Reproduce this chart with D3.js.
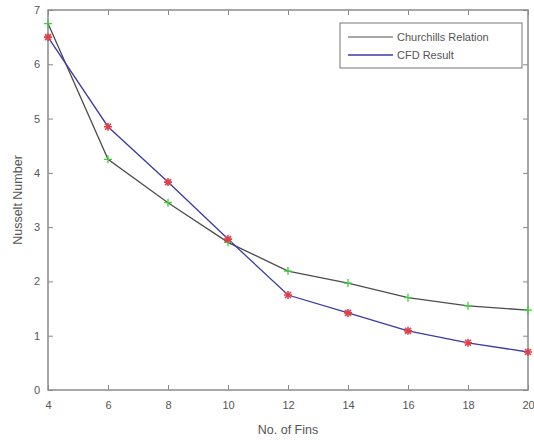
<!DOCTYPE html>
<html>
<head>
<meta charset="utf-8">
<script src="https://cdn.jsdelivr.net/npm/d3@7"></script>
<style>
  body { margin: 0; background: #fff; }
  svg { font-family: "Liberation Sans", Arial, sans-serif; }
</style>
</head>
<body>
<svg id="chart"></svg>
<script>
// Data
const fins = [4, 6, 8, 10, 12, 14, 16, 18, 20];
const churchill = [6.75, 4.25, 3.45, 2.72, 2.19, 1.97, 1.7, 1.55, 1.47];
const cfd = [6.5, 4.85, 3.83, 2.78, 1.75, 1.42, 1.09, 0.87, 0.7];
const xTicks = [4, 6, 8, 10, 12, 14, 16, 18, 20];
const yTicks = [0, 1, 2, 3, 4, 5, 6, 7];

// Dimensions
const width = 534;
const height = 440;
const margin = { top: 10, right: 6, bottom: 50, left: 48 };

const svg = d3.select("#chart").attr("width", width).attr("height", height);

const x = d3.scaleLinear().domain([4, 20]).range([margin.left, width - margin.right]);
const y = d3.scaleLinear().domain([0, 7]).range([height - margin.bottom, margin.top]);

const axisColor = "#8a8a8a";
const textColor = "#555";

// Frame
svg.append("rect")
  .attr("x", x(4)).attr("y", y(7))
  .attr("width", x(20) - x(4)).attr("height", y(0) - y(7))
  .attr("fill", "none").attr("stroke", axisColor).attr("stroke-width", 1.5);

// Axes (ticks inward)
const xAxis = svg.append("g")
  .attr("transform", `translate(0,${y(0)})`)
  .call(d3.axisBottom(x).tickValues(xTicks).tickSize(-5).tickPadding(11));
const xAxisTop = svg.append("g")
  .attr("transform", `translate(0,${y(7)})`)
  .call(d3.axisTop(x).tickValues(xTicks).tickSize(-5).tickFormat(""));
const yAxis = svg.append("g")
  .attr("transform", `translate(${x(4)},0)`)
  .call(d3.axisLeft(y).tickValues(yTicks).tickSize(-5).tickPadding(8).tickFormat(d3.format("d")));
const yAxisRight = svg.append("g")
  .attr("transform", `translate(${x(20)},0)`)
  .call(d3.axisRight(y).tickValues(yTicks).tickSize(-5).tickFormat(""));

[xAxis, xAxisTop, yAxis, yAxisRight].forEach((g) => {
  g.select(".domain").remove();
  g.selectAll("line").attr("stroke", axisColor);
  g.selectAll("text").attr("fill", textColor).style("font-size", "11px");
});

// Axis labels
svg.append("text")
  .attr("x", (x(4) + x(20)) / 2).attr("y", 434)
  .attr("text-anchor", "middle").attr("fill", textColor)
  .style("font-size", "12.5px").text("No. of Fins");

svg.append("text")
  .attr("transform", `translate(22,${(y(0) + y(7)) / 2}) rotate(-90)`)
  .attr("text-anchor", "middle").attr("fill", textColor)
  .style("font-size", "12.5px").text("Nusselt Number");

const line = d3.line().x((d) => x(d[0])).y((d) => y(d[1]));
const chData = fins.map((f, i) => [f, churchill[i]]);
const cfdData = fins.map((f, i) => [f, cfd[i]]);

// Lines
svg.append("path").datum(chData)
  .attr("d", line).attr("fill", "none")
  .attr("stroke", "#4d4d4d").attr("stroke-width", 1.3);
svg.append("path").datum(cfdData)
  .attr("d", line).attr("fill", "none")
  .attr("stroke", "#3a3aa8").attr("stroke-width", 1.3);

// Markers: green plus
svg.append("g").selectAll("path")
  .data(chData).enter().append("path")
  .attr("transform", (d) => `translate(${x(d[0])},${y(d[1])})`)
  .attr("d", "M-4,0H4M0,-4V4")
  .attr("stroke", "#3fcf3f").attr("stroke-width", 1.3).attr("fill", "none");

// Markers: red asterisk
svg.append("g").selectAll("path")
  .data(cfdData).enter().append("path")
  .attr("transform", (d) => `translate(${x(d[0])},${y(d[1])})`)
  .attr("d", "M-4,0H4M0,-4V4M-3,-3L3,3M-3,3L3,-3")
  .attr("stroke", "#e0404a").attr("stroke-width", 1.6).attr("fill", "none");

// Legend
const legend = svg.append("g");
legend.append("rect")
  .attr("x", 340).attr("y", 23).attr("width", 182).attr("height", 45)
  .attr("fill", "#fff").attr("stroke", "#777").attr("stroke-width", 1);
const legendItems = [
  { label: "Churchills Relation", color: "#8a8a8a" },
  { label: "CFD Result", color: "#3a3aa8" },
];
legendItems.forEach((d, i) => {
  const ly = 37 + i * 18;
  legend.append("line")
    .attr("x1", 348).attr("x2", 393).attr("y1", ly).attr("y2", ly)
    .attr("stroke", d.color).attr("stroke-width", 1.3);
  legend.append("text")
    .attr("x", 397).attr("y", ly + 4)
    .attr("fill", textColor).style("font-size", "11px").text(d.label);
});
</script>
</body>
</html>
